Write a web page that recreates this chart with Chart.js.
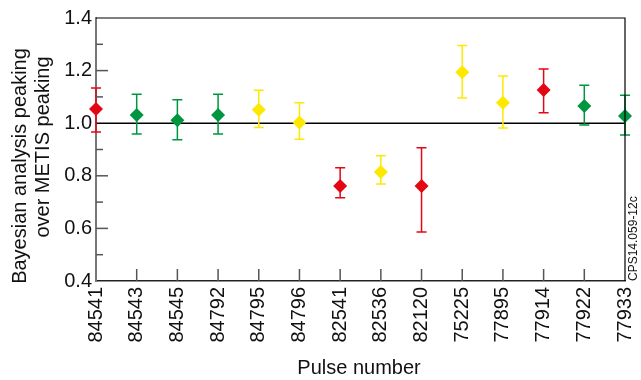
<!DOCTYPE html>
<html>
<head>
<meta charset="utf-8">
<script src="https://cdn.jsdelivr.net/npm/chart.js@4/dist/chart.umd.min.js"></script>
<style>
  html, body { margin: 0; padding: 0; background: #fff; }
</style>
</head>
<body>
<canvas id="peakChart" width="641" height="380"></canvas>
<script>
const pulses = [
  "84541", "84543", "84545", "84792", "84795", "84796", "82541",
  "82536", "82120", "75225", "77895", "77914", "77922", "77933"
];

const ratio = [1.054, 1.031, 1.011, 1.031, 1.051, 1.003, 0.761,
               0.814, 0.761, 1.194, 1.078, 1.126, 1.065, 1.027];

const upper = [1.134, 1.110, 1.089, 1.110, 1.125, 1.078, 0.831,
               0.876, 0.907, 1.295, 1.179, 1.206, 1.144, 1.106];

const lower = [0.967, 0.959, 0.937, 0.959, 0.984, 0.939, 0.717,
               0.769, 0.586, 1.096, 0.982, 1.040, 0.993, 0.955];

const RED = "#e30613", GREEN = "#00953f", YELLOW = "#ffe800";

const pointColors = [RED, GREEN, GREEN, GREEN, YELLOW, YELLOW, RED,
                     YELLOW, RED, YELLOW, YELLOW, RED, GREEN, GREEN];

const FONT = "'Liberation Sans', Arial, Helvetica, sans-serif";

/* error bars, reference line, frame, inner ticks and titles */
const extras = {
  id: "extras",

  beforeDatasetsDraw(chart) {
    const { ctx, chartArea: a, scales: { x, y } } = chart;
    ctx.save();

    // line at 1.0
    const yOne = y.getPixelForValue(1.0);
    ctx.strokeStyle = "#000";
    ctx.lineWidth = 1.5;
    ctx.beginPath();
    ctx.moveTo(a.left, yOne);
    ctx.lineTo(a.right, yOne);
    ctx.stroke();

    // error bars
    ctx.lineWidth = 1.5;
    pulses.forEach((p, i) => {
      const px = x.getPixelForValue(i);
      const top = y.getPixelForValue(upper[i]);
      const bot = y.getPixelForValue(lower[i]);
      ctx.strokeStyle = pointColors[i];
      ctx.beginPath();
      ctx.moveTo(px, top); ctx.lineTo(px, bot);
      ctx.moveTo(px - 5, top); ctx.lineTo(px + 5, top);
      ctx.moveTo(px - 5, bot); ctx.lineTo(px + 5, bot);
      ctx.stroke();
    });

    ctx.restore();
  },

  afterDraw(chart) {
    const { ctx, chartArea: a, scales: { x, y } } = chart;
    ctx.save();

    // top and right frame
    ctx.strokeStyle = "#000";
    ctx.lineWidth = 1.2;
    ctx.beginPath();
    ctx.moveTo(a.left, a.top);
    ctx.lineTo(a.right, a.top);
    ctx.lineTo(a.right, a.bottom);
    ctx.stroke();

    // y ticks pointing inwards
    ctx.strokeStyle = "#555";
    ctx.lineWidth = 1.5;
    for (let k = 5; k <= 13; k++) {
      if (k === 10) continue;
      const py = y.getPixelForValue(k / 10);
      const len = k % 2 === 0 ? 12 : 7;
      ctx.beginPath();
      ctx.moveTo(a.left, py);
      ctx.lineTo(a.left + len, py);
      ctx.stroke();
    }

    // x ticks pointing inwards
    for (let i = 1; i < pulses.length - 1; i++) {
      const px = x.getPixelForValue(i);
      ctx.beginPath();
      ctx.moveTo(px, a.bottom);
      ctx.lineTo(px, a.bottom - 12);
      ctx.stroke();
    }

    // axis titles
    ctx.fillStyle = "#111";
    ctx.font = "20px " + FONT;
    ctx.textAlign = "center";
    ctx.textBaseline = "middle";
    ctx.fillText("Pulse number", 359, 368);

    ctx.save();
    ctx.translate(20, 166);
    ctx.rotate(-Math.PI / 2);
    ctx.fillText("Bayesian analysis peaking", 0, 0);
    ctx.restore();

    ctx.save();
    ctx.translate(43, 147);
    ctx.rotate(-Math.PI / 2);
    ctx.fillText("over METIS peaking", 0, 0);
    ctx.restore();

    // figure id
    ctx.save();
    ctx.translate(634, 281);
    ctx.rotate(-Math.PI / 2);
    ctx.font = "12px " + FONT;
    ctx.textAlign = "left";
    ctx.fillText("CPS14.059-12c", 0, 0);
    ctx.restore();

    ctx.restore();
  }
};

new Chart(
  document.getElementById("peakChart"),
  {
    type: "line",

    data: {
      labels: pulses,
      datasets: [{
        data: ratio,
        showLine: false,
        pointStyle: "rectRot",
        pointRadius: 7,
        pointHoverRadius: 7,
        pointBackgroundColor: pointColors,
        pointBorderWidth: 0,
        borderWidth: 0
      }]
    },

    options: {
      responsive: false,
      animation: false,
      devicePixelRatio: 1,

      layout: {
        padding: { top: 18, right: 16, left: 0, bottom: 0 }
      },

      plugins: {
        legend: { display: false },
        tooltip: { enabled: false }
      },

      scales: {
        x: {
          type: "category",
          offset: false,
          afterFit: s => {
            s.height = 99;
            s.paddingLeft = 0;
            s.paddingRight = 0;
          },
          grid: { drawOnChartArea: false, drawTicks: false },
          border: { color: "#222", width: 1.5 },
          ticks: {
            autoSkip: false,
            minRotation: 90,
            maxRotation: 90,
            padding: 6,
            color: "#111",
            font: { size: 20, family: FONT }
          }
        },

        y: {
          min: 0.4,
          max: 1.4,
          afterFit: s => {
            s.width = 96;
            s.paddingTop = 0;
            s.paddingBottom = 0;
          },
          grid: { drawOnChartArea: false, drawTicks: false },
          border: { color: "#777", width: 2 },
          ticks: {
            stepSize: 0.2,
            padding: 4,
            color: "#111",
            font: { size: 20, family: FONT },
            callback: v => Number(v).toFixed(1)
          }
        }
      }
    },

    plugins: [extras]
  }
);
</script>
</body>
</html>
